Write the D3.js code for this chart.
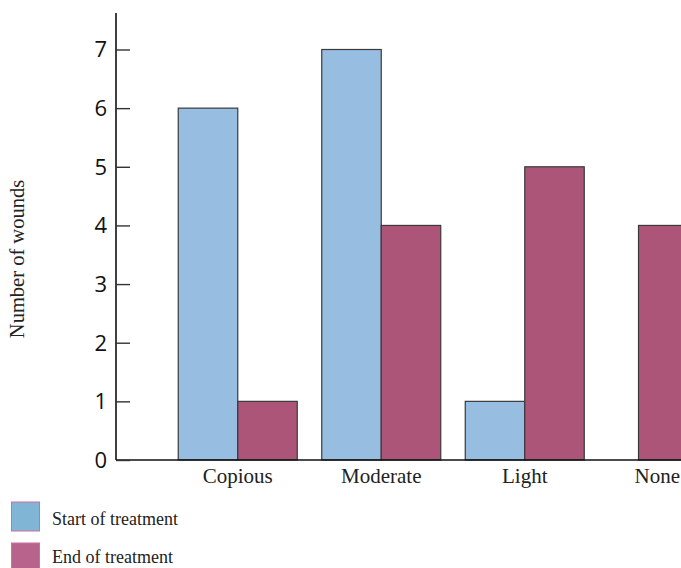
<!DOCTYPE html>
<html><head><meta charset="utf-8">
<script src="https://cdn.jsdelivr.net/npm/d3@7"></script>
<style>body{margin:0;background:#fff}svg{display:block}</style>
</head><body>
<script>
const categories = ["Copious", "Moderate", "Light", "None"];
const series = ["Start of treatment", "End of treatment"];
const startValues = [6, 7, 1, 0];
const endValues = [1, 4, 5, 4];
const yTicks = [0, 1, 2, 3, 4, 5, 6, 7];

const W = 681, H = 568;
const barColors = ["#97bde1", "#ad5479"];
const legendFill = ["#80b5d6", "#b8638c"];

const svg = d3.select("body").append("svg").attr("width", W).attr("height", H);

const axisX = 116, baseY = 460;
const y = d3.scaleLinear().domain([0, 7]).range([baseY, 49.5]);
const x0 = d3.scaleBand().domain(categories).range([166, 740]).padding(0);
const barW = 59.5;

// bars
categories.forEach((c, i) => {
  const cx = x0(c) + x0.bandwidth() / 2;
  const vals = [startValues[i], endValues[i]];
  const present = vals.map(v => v > 0);
  const nPresent = present.filter(Boolean).length;
  const sub = d3.scaleBand().domain(series.filter((s, k) => present[k]))
    .range([cx - barW * nPresent / 2, cx + barW * nPresent / 2]);
  series.forEach((s, k) => {
    if (!present[k]) return;
    svg.append("rect")
      .attr("x", sub(s)).attr("y", y(vals[k]))
      .attr("width", sub.bandwidth()).attr("height", y(0) - y(vals[k]))
      .attr("fill", barColors[k]).attr("stroke", "#3a3a3a").attr("stroke-width", 1.2);
  });
});

// axes
svg.append("line").attr("x1", axisX).attr("x2", axisX).attr("y1", 13).attr("y2", baseY)
  .attr("stroke", "#111").attr("stroke-width", 1.6);
svg.append("line").attr("x1", axisX).attr("x2", W).attr("y1", baseY).attr("y2", baseY)
  .attr("stroke", "#111").attr("stroke-width", 1.6);
const yAxis = d3.axisRight(y).tickValues(yTicks).tickSize(14).tickFormat("");
const yg = svg.append("g").attr("transform", `translate(${axisX},0)`).call(yAxis);
yg.select(".domain").remove();
yg.selectAll(".tick line").attr("stroke", "#333").attr("stroke-width", 1.4);
yTicks.forEach(t => {
  svg.append("text").attr("x", 107).attr("y", y(t)).attr("dy", "0.36em")
    .attr("text-anchor", "end").attr("font-family", "Open Sans, sans-serif")
    .attr("font-size", 22).attr("fill", "#111").text(t);
});

// category labels (kept inside the picture)
categories.forEach(c => {
  const t = svg.append("text").attr("x", x0(c) + x0.bandwidth() / 2).attr("y", 483)
    .attr("text-anchor", "middle").attr("font-family", "Liberation Serif, serif")
    .attr("font-size", 21).attr("fill", "#222").text(c);
  const bb = t.node().getBBox();
  if (bb.x + bb.width > W - 1) t.attr("x", W - 1 - bb.width / 2);
});

// y title
svg.append("text").attr("transform", "translate(24,259) rotate(-90)")
  .attr("text-anchor", "middle").attr("font-family", "Liberation Serif, serif")
  .attr("font-size", 20.5).attr("fill", "#222").text("Number of wounds");

// legend
series.forEach((s, k) => {
  const ly = 502 + k * 41;
  svg.append("rect").attr("x", 11.5).attr("y", ly).attr("width", 28).attr("height", 29)
    .attr("fill", legendFill[k]).attr("stroke", "#cf6f9e").attr("stroke-width", 1);
  svg.append("text").attr("x", 52).attr("y", ly + 23 - k * 3)
    .attr("font-family", "Liberation Serif, serif").attr("font-size", 18)
    .attr("fill", "#222").text(s);
});
</script>
</body></html>
